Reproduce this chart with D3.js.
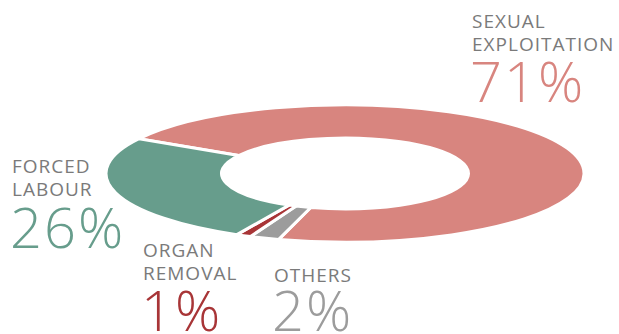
<!DOCTYPE html>
<html>
<head>
<meta charset="utf-8">
<script src="https://cdn.jsdelivr.net/npm/d3@7"></script>
<style>
  html, body { margin: 0; padding: 0; background: #ffffff; }
  svg { display: block; }
  text { font-family: "Open Sans", "Noto Sans", sans-serif; }
</style>
</head>
<body>
<svg id="chart" width="619" height="334"></svg>
<script>
// Shares of detected trafficking victims by form of exploitation
const categories = ["SEXUAL EXPLOITATION", "OTHERS", "ORGAN REMOVAL", "FORCED LABOUR"];
const values = [71, 2, 1, 26];
const colors = ["#d8857f", "#9c9c9c", "#a83537", "#679d8c"];
const labelLines = [["SEXUAL", "EXPLOITATION"], ["OTHERS"], ["ORGAN", "REMOVAL"], ["FORCED", "LABOUR"]];

const svg = d3.select("#chart");

// Donut geometry: a flat ring seen at an angle
const cx = 345, cy = 173.5;
const outerR = 239, innerR = 123.5;
const tilt = 0.287;
const start = 300.5 * Math.PI / 180;

const pie = d3.pie().sort(null).value(d => d)
  .startAngle(start).endAngle(start + 2 * Math.PI);
const arc = d3.arc().innerRadius(innerR).outerRadius(outerR);
const color = d3.scaleOrdinal().domain(categories).range(colors);

const ring = svg.append("g")
  .attr("transform", `translate(${cx},${cy}) scale(1,${tilt})`);

ring.selectAll("path")
  .data(pie(values))
  .join("path")
  .attr("d", arc)
  .attr("fill", (d, i) => color(categories[i]))
  .attr("stroke", "#ffffff")
  .attr("stroke-width", 3)
  .attr("vector-effect", "non-scaling-stroke");

// Label blocks: category name in grey caps, share in the slice colour
const labelPos = [
  { x: 472, y: 28, pctY: 102 },
  { x: 274, y: 282, pctY: 331 },
  { x: 143, y: 257, pctY: 331 },
  { x: 12, y: 173, pctY: 248 }
];

categories.forEach((c, i) => {
  const p = labelPos[i];
  const g = svg.append("g");
  labelLines[i].forEach((line, j) => {
    g.append("text")
      .attr("x", p.x)
      .attr("y", p.y + j * 23)
      .attr("font-size", 19)
      .attr("letter-spacing", 1)
      .attr("fill", "#7a7a7a")
      .text(line);
  });
  g.append("text")
    .attr("x", p.x - 2)
    .attr("y", p.pctY)
    .attr("font-size", 56)
    .attr("font-weight", 300)
    .attr("letter-spacing", 2)
    .attr("fill", color(c))
    .text(values[i] + "%");
});
</script>
</body>
</html>
